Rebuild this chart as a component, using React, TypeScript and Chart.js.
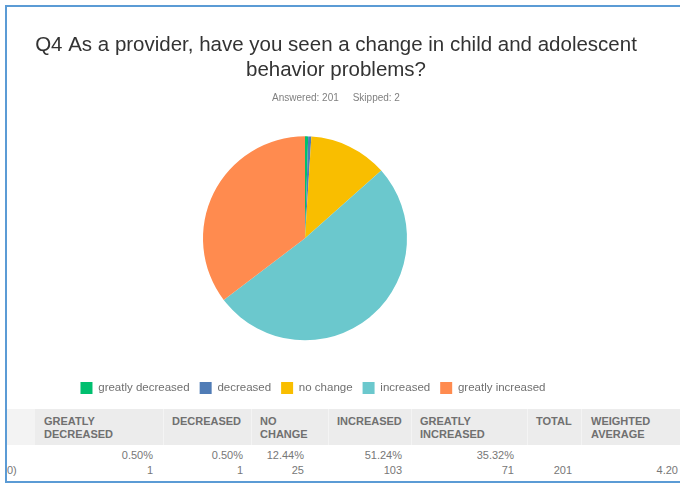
import React, { useEffect, useRef } from 'react';
import { Chart, registerables, layouts } from 'chart.js';

Chart.register(...registerables);

// ---- data ----
const TITLE_LINES = [
  'Q4 As a provider, have you seen a change in child and adolescent',
  'behavior problems?',
];
const ANSWERED = 201;
const SKIPPED = 2;
const CATEGORIES = ['greatly decreased', 'decreased', 'no change', 'increased', 'greatly increased'];
const COUNTS = [1, 1, 25, 103, 71];
const PERCENTS = ['0.50%', '0.50%', '12.44%', '51.24%', '35.32%'];
const TOTAL = 201;
const WEIGHTED_AVERAGE = '4.20';
const TABLE_HEADERS = [
  'GREATLY\nDECREASED',
  'DECREASED',
  'NO\nCHANGE',
  'INCREASED',
  'GREATLY\nINCREASED',
  'TOTAL',
  'WEIGHTED\nAVERAGE',
];
const ROW_LABEL = '0)';

// ---- style / layout ----
const COLORS = ['#00bf6f', '#507cb6', '#f9be00', '#6bc8cd', '#ff8b4f'];
const HEADER_LEFT = [44, 172, 260, 337, 420, 536, 591];
const VALUE_RIGHT = [153, 243, 304, 402, 514, 572, 678];
const COL_BOUNDS = [35, 163, 251, 328, 411, 527, 581];
const SANS = "'Liberation Sans', Arial, sans-serif";
const FRAME_BLUE = '#5b9bd5';
const PIE_RIGHT_SPACE = 62;
const LEGEND_SHIFT = 8;

const rightSpacer = {
  id: 'rightSpacer',
  beforeInit(chart: any) {
    const box: any = {
      position: 'right',
      weight: 0,
      fullSize: false,
      options: {},
      left: 0,
      top: 0,
      right: 0,
      bottom: 0,
      width: 0,
      height: 0,
      isHorizontal() {
        return false;
      },
      update(_maxWidth: number, maxHeight: number) {
        this.width = PIE_RIGHT_SPACE;
        this.height = maxHeight;
      },
      draw() {},
    };
    layouts.addBox(chart, box);
  },
  afterLayout(chart: any) {
    if (chart.legend) {
      chart.legend.left += LEGEND_SHIFT;
      chart.legend.right += LEGEND_SHIFT;
    }
  },
};

function PieChart() {
  const ref = useRef<HTMLCanvasElement | null>(null);
  useEffect(() => {
    if (!ref.current) return;
    const chart = new Chart(ref.current, {
      type: 'pie',
      data: {
        labels: CATEGORIES,
        datasets: [
          {
            data: COUNTS,
            backgroundColor: COLORS,
            borderWidth: 0,
            radius: 102,
          } as any,
        ],
      },
      options: {
        animation: false,
        responsive: false,
        maintainAspectRatio: false,
        layout: { padding: 0 },
        plugins: {
          title: {
            display: true,
            text: TITLE_LINES,
            color: '#333',
            font: { family: SANS, size: 20.5, weight: 'normal', lineHeight: 1.2 },
            padding: { top: 25.5, bottom: 9 },
          },
          subtitle: {
            display: true,
            text: `Answered: ${ANSWERED}     Skipped: ${SKIPPED}`,
            color: '#808080',
            font: { family: SANS, size: 10, lineHeight: 1.2 },
            padding: { top: 1, bottom: 0 },
          },
          legend: {
            position: 'bottom',
            fullSize: false,
            labels: {
              boxWidth: 12,
              boxHeight: 12,
              padding: 10,
              color: '#707070',
              font: { family: SANS, size: 11.5 },
            },
          },
          tooltip: { enabled: false },
        },
      } as any,
      plugins: [rightSpacer as any],
    });
    return () => chart.destroy();
  }, []);
  return (
    <canvas
      ref={ref}
      width={656}
      height={396}
      style={{ position: 'absolute', left: 8, top: 8, width: 656, height: 396 }}
    />
  );
}

export default function App() {
  const row1 = [...PERCENTS, '', ''];
  const row2 = [...COUNTS.map(String), String(TOTAL), WEIGHTED_AVERAGE];
  return (
    <div
      style={{
        position: 'fixed',
        left: 0,
        top: 0,
        width: 680,
        height: 483,
        overflow: 'hidden',
        background: '#fff',
        fontFamily: SANS,
      }}
    >
      <PieChart />
      {/* table header band */}
      <div style={{ position: 'absolute', left: 7, top: 409, width: 28, height: 36, background: '#f3f3f3' }} />
      <div style={{ position: 'absolute', left: 35, top: 409, width: 645, height: 36, background: '#ececec' }} />
      {COL_BOUNDS.slice(1).map((x, i) => (
        <div
          key={'sep' + i}
          style={{ position: 'absolute', left: x, top: 409, width: 1, height: 36, background: '#f4f4f4' }}
        />
      ))}
      {TABLE_HEADERS.map((h, i) => (
        <div
          key={'h' + i}
          style={{
            position: 'absolute',
            left: HEADER_LEFT[i],
            top: 415,
            whiteSpace: 'pre',
            fontSize: 11,
            lineHeight: '13px',
            fontWeight: 'bold',
            color: '#707070',
          }}
        >
          {h}
        </div>
      ))}
      {row1.map((v, i) => (
        <div
          key={'r1' + i}
          style={{
            position: 'absolute',
            left: VALUE_RIGHT[i] - 100,
            width: 100,
            top: 448,
            textAlign: 'right',
            fontSize: 11,
            lineHeight: '14px',
            color: '#777',
          }}
        >
          {v}
        </div>
      ))}
      {row2.map((v, i) => (
        <div
          key={'r2' + i}
          style={{
            position: 'absolute',
            left: VALUE_RIGHT[i] - 100,
            width: 100,
            top: 463,
            textAlign: 'right',
            fontSize: 11,
            lineHeight: '14px',
            color: '#777',
          }}
        >
          {v}
        </div>
      ))}
      <div
        style={{
          position: 'absolute',
          left: 7,
          top: 463,
          fontSize: 11,
          lineHeight: '14px',
          color: '#777',
        }}
      >
        {ROW_LABEL}
      </div>
      {/* frame */}
      <div
        style={{
          position: 'absolute',
          left: 5,
          top: 5,
          width: 720,
          height: 478,
          boxSizing: 'border-box',
          borderTop: `2px solid ${FRAME_BLUE}`,
          borderLeft: `2px solid ${FRAME_BLUE}`,
          borderBottom: `2px solid ${FRAME_BLUE}`,
          pointerEvents: 'none',
        }}
      />
    </div>
  );
}
